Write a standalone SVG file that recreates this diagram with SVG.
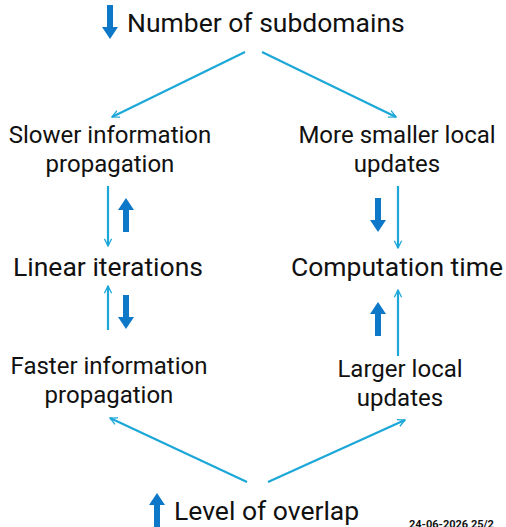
<svg xmlns="http://www.w3.org/2000/svg" width="506" height="527" viewBox="0 0 506 527">
<defs>
<marker id="ah" viewBox="0 0 10 10" refX="9" refY="5" markerWidth="9" markerHeight="9" orient="auto" markerUnits="userSpaceOnUse">
<path d="M1,1 L9,5 L1,9" fill="none" stroke="#1ba7d8" stroke-width="1.4"/>
</marker>
<path id="up" d="M-3,34 L3,34 L3,12 L8,12 L0,0 L-8,12 L-3,12 Z" fill="#0e78c8"/>
<path id="down" d="M-3,0 L3,0 L3,22 L8,22 L0,34 L-8,22 L-3,22 Z" fill="#0e78c8"/>
</defs>
<style>
text{font-family:Roboto,"Liberation Sans",sans-serif;fill:#111}
.t{font-size:24px;text-anchor:middle}
.b{font-size:26.5px;text-anchor:middle}
.c{stroke:#1ba7d8;stroke-width:2.2;fill:none}
</style>
<rect width="506" height="527" fill="#fff"/>
<g id="connectors">
<line class="c" x1="245" y1="52" x2="112" y2="117" marker-end="url(#ah)"/>
<line class="c" x1="262" y1="52" x2="396" y2="117" marker-end="url(#ah)"/>
<line class="c" x1="108" y1="186" x2="108" y2="246" marker-end="url(#ah)"/>
<line class="c" x1="108" y1="330" x2="108" y2="286" marker-end="url(#ah)"/>
<line class="c" x1="398" y1="186" x2="398" y2="248" marker-end="url(#ah)"/>
<line class="c" x1="398" y1="356" x2="398" y2="290" marker-end="url(#ah)"/>
<line class="c" x1="247" y1="482" x2="110" y2="418" marker-end="url(#ah)"/>
<line class="c" x1="268" y1="482" x2="405" y2="420" marker-end="url(#ah)"/>
</g>
<g id="subdomains">
<use href="#down" transform="translate(110,5)"/>
<text x="127" y="32" style="font-size:26.5px">Number of subdomains</text>
</g>
<g id="slower">
<text class="t" x="110" y="143">Slower information</text>
<text class="t" x="110" y="172">propagation</text>
</g>
<g id="more-smaller">
<text class="t" x="397" y="143">More smaller local</text>
<text class="t" x="397" y="172">updates</text>
</g>
<g id="linear">
<use href="#up" transform="translate(126,198)"/>
<text class="b" x="108" y="276">Linear iterations</text>
<use href="#down" transform="translate(126,295)"/>
</g>
<g id="computation">
<use href="#down" transform="translate(378,198)"/>
<text class="b" x="397" y="276">Computation time</text>
<use href="#up" transform="translate(378,302)"/>
</g>
<g id="faster">
<text class="t" x="109" y="374">Faster information</text>
<text class="t" x="109" y="403">propagation</text>
</g>
<g id="larger">
<text class="t" x="400" y="377">Larger local</text>
<text class="t" x="400" y="406">updates</text>
</g>
<g id="overlap">
<use href="#up" transform="translate(157,493)"/>
<text x="174" y="520" style="font-size:26.5px">Level of overlap</text>
</g>
<text x="409" y="528" style="font-size:11px;font-weight:bold">24-06-2026 25/2</text>
</svg>
